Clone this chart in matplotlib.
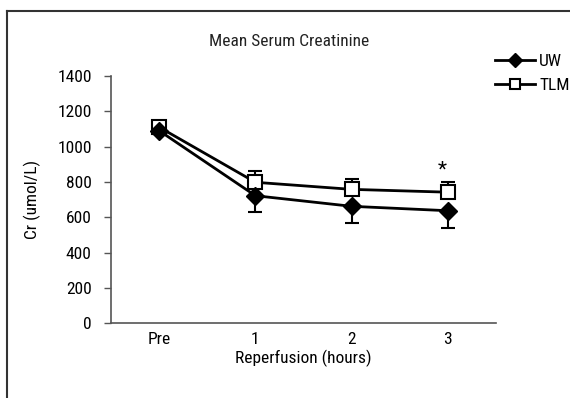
import numpy as np
from matplotlib import pyplot as plt
from matplotlib.lines import Line2D
import matplotlib.font_manager as fm

# condensed font if there is one, else Liberation Sans
wanted = ['Roboto Condensed', 'Open Sans Condensed', 'Liberation Sans Narrow',
          'Noto Sans Condensed', 'Liberation Sans']
have = {f.name for f in fm.fontManager.ttflist}
plt.rcParams['font.family'] = [f for f in wanted if f in have] + ['DejaVu Sans']

timepoints = ["Pre", "1", "2", "3"]
uw_mean = [1090, 722, 662, 637]
uw_err_low = [20, 95, 95, 97]
tlm_mean = [1110, 798, 758, 742]
tlm_err_high = [20, 64, 60, 59]

x = np.arange(len(timepoints))
zeros = [0] * len(timepoints)

fig = plt.figure(figsize=(5.7, 3.98), dpi=100)
ax = fig.add_axes([0.195, 0.188, 0.675, 0.621])

ax.errorbar(x, uw_mean, yerr=[uw_err_low, zeros], color="black", lw=2,
            marker="D", markersize=9, markerfacecolor="black",
            ecolor="black", elinewidth=1.5, capsize=5, capthick=1.5, zorder=3)
ax.errorbar(x, tlm_mean, yerr=[zeros, tlm_err_high], color="black", lw=2,
            marker="s", markersize=10, markerfacecolor="white",
            markeredgewidth=1.5, ecolor="black", elinewidth=1.5,
            capsize=5, capthick=1.5, zorder=2)

# significance marker over last TLM point
ax.text(x[-1] - 0.06, tlm_mean[-1] + tlm_err_high[-1] + 15, "*",
        ha="center", va="bottom", fontsize=15)

ax.set_xlim(-0.5, 3.5)
ax.set_ylim(0, 1400)
ax.set_yticks(np.arange(0, 1401, 200))
ax.set_xticks(x)
ax.set_xticklabels(timepoints)
ax.tick_params(axis="x", length=0, labelsize=12.5, pad=6)
ax.tick_params(axis="y", length=5, width=1, color="#555555", labelsize=12.5,
               pad=9)

for side in ["top", "right"]:
    ax.spines[side].set_visible(False)
for side in ["left", "bottom"]:
    ax.spines[side].set_color("#555555")
    ax.spines[side].set_linewidth(1.2)

ax.set_xlabel("Reperfusion (hours)", fontsize=12.5, labelpad=2)
ax.set_ylabel("Cr (umol/L)", fontsize=12.5, labelpad=12)

fig.text(289 / 570, 1 - 42 / 398, "Mean Serum Creatinine", ha="center",
         va="center", fontsize=12.5, color="#222222")

handles = [
    Line2D([], [], color="black", lw=2, marker="D", markersize=7,
           markerfacecolor="black"),
    Line2D([], [], color="black", lw=2, marker="s", markersize=7,
           markerfacecolor="white", markeredgewidth=1.5),
]
fig.legend(handles, ["UW", "TLM"], loc="upper left",
           bbox_to_anchor=(495 / 570, 1 - 54 / 398), frameon=False,
           fontsize=12.5, handlelength=2.3, handletextpad=0.25,
           labelspacing=0.5, borderpad=0, borderaxespad=0)

# page frame (left and top edges)
fig.add_artist(Line2D([7 / 570, 7 / 570], [0, 1 - 10.5 / 398],
                      transform=fig.transFigure, color="#333333", lw=1.5))
fig.add_artist(Line2D([7 / 570, 1], [1 - 10.5 / 398, 1 - 10.5 / 398],
                      transform=fig.transFigure, color="#333333", lw=1.5))

fig.savefig("out.png", dpi=100)
